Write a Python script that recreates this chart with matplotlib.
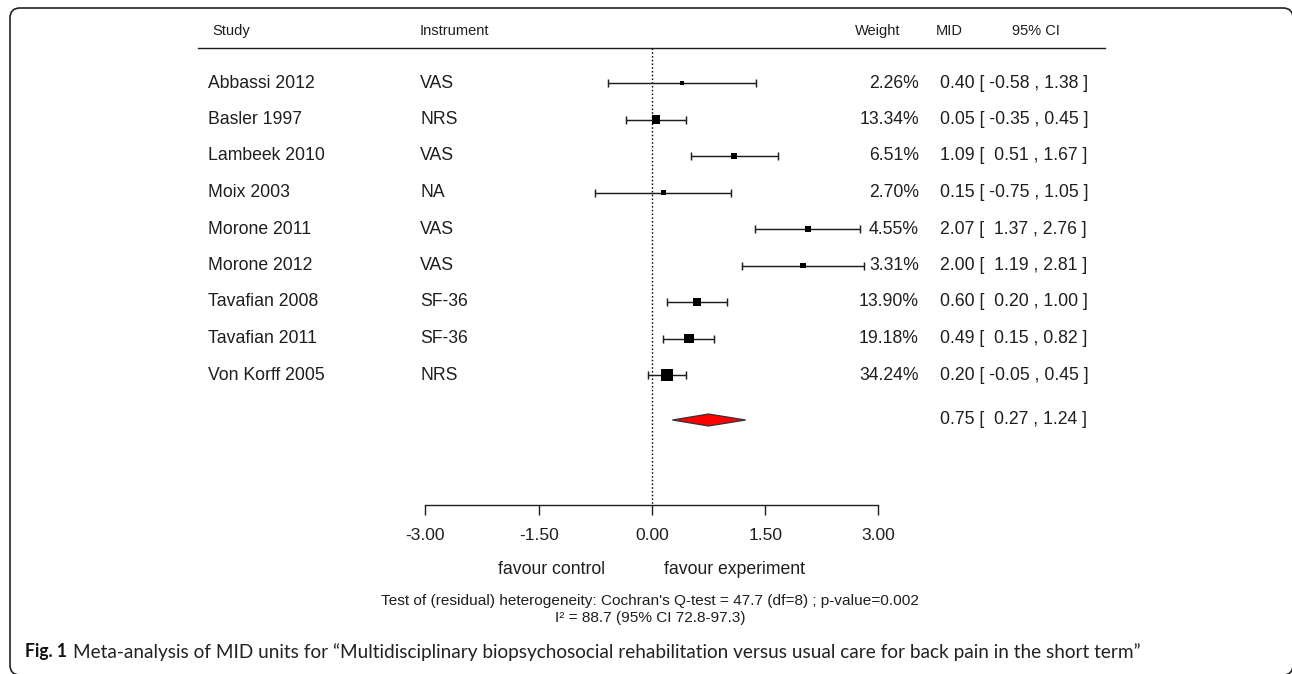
import matplotlib
matplotlib.use("Agg")
import matplotlib.pyplot as plt
import matplotlib.transforms as mtransforms
from matplotlib.patches import FancyBboxPatch, Polygon
from matplotlib import font_manager
import numpy as np

# ---------------- data ----------------
studies = ["Abbassi 2012", "Basler 1997", "Lambeek 2010", "Moix 2003", "Morone 2011",
           "Morone 2012", "Tavafian 2008", "Tavafian 2011", "Von Korff 2005"]
instruments = ["VAS", "NRS", "VAS", "NA", "VAS", "VAS", "SF-36", "SF-36", "NRS"]
weights = [2.26, 13.34, 6.51, 2.70, 4.55, 3.31, 13.90, 19.18, 34.24]
mid = [0.40, 0.05, 1.09, 0.15, 2.07, 2.00, 0.60, 0.49, 0.20]
ci_low = [-0.58, -0.35, 0.51, -0.75, 1.37, 1.19, 0.20, 0.15, -0.05]
ci_high = [1.38, 0.45, 1.67, 1.05, 2.76, 2.81, 1.00, 0.82, 0.45]
summary_est = 0.75
summary_low = 0.27
summary_high = 1.24
x_ticks = [-3.0, -1.5, 0.0, 1.5, 3.0]
x_tick_labels = ["-3.00", "-1.50", "0.00", "1.50", "3.00"]
header_labels = ["Study", "Instrument", "Weight", "MID", "95% CI"]
favour_labels = ["favour control", "favour experiment"]
het_lines = ["Test of (residual) heterogeneity: Cochran's Q-test = 47.7 (df=8) ; p-value=0.002",
             "I\u00b2 = 88.7 (95% CI 72.8-97.3)"]
caption_bold = "Fig. 1"
caption_text = ("Meta-analysis of MID units for \u201cMultidisciplinary biopsychosocial rehabilitation "
                "versus usual care for back pain in the short term\u201d")

# ---------------- fonts ----------------
ttf = font_manager.fontManager.ttflist
names = {f.name for f in ttf}
SANS = "Liberation Sans" if "Liberation Sans" in names else "DejaVu Sans"
CAPF = "Lato" if "Lato" in names else SANS

# ---------------- layout ----------------
W, H, DPI = 1292, 674, 100
fig = plt.figure(figsize=(W / DPI, H / DPI), dpi=DPI)
fig.patch.set_facecolor("white")
ax = fig.add_axes([0, 0, 1, 1])
ax.set_facecolor("none")

X0, SX = 652.0, 75.5     # pixel of x=0, pixels per unit
Y0, SY = 83.0, 36.5      # pixel of first row, pixels per row


def xpx(p):
    return (p - X0) / SX


def ypx(p):
    return (p - Y0) / SY


ax.set_xlim(xpx(0), xpx(W))
ax.set_ylim(ypx(H), ypx(0))

rows = np.arange(len(studies))
m = np.array(mid)
lo = np.array(ci_low)
hi = np.array(ci_high)
w = np.array(weights)
INK = "#1e1e1e"

# confidence intervals
ax.errorbar(m, rows, xerr=[m - lo, hi - m], fmt="none", ecolor=INK,
            elinewidth=1.05, capsize=2.9, capthick=1.05, zorder=2)
# weight squares
size_px = 2.0 + 10.0 * np.sqrt(w / w.max())
ax.scatter(m, rows, marker="s", s=(size_px * 0.72) ** 2, c="black",
           linewidths=0, zorder=3)

# summary diamond
srow = ypx(420)
dh = 6.0 / SY
ax.add_patch(Polygon([[summary_low, srow], [summary_est, srow - dh],
                      [summary_high, srow], [summary_est, srow + dh]],
                     closed=True, fc="#ff0000", ec="#333333", lw=0.9, zorder=3))

# reference line at 0
ax.plot([0, 0], [ypx(48), ypx(505)], color="black", lw=1.0,
        ls=(0, (1.1, 1.6)), zorder=1)
# header rule
ax.plot([xpx(198), xpx(1105)], [ypx(48), ypx(48)], color=INK, lw=1.0)

# bottom axis
for s in ["top", "left", "right"]:
    ax.spines[s].set_visible(False)
ax.spines["bottom"].set_position(("data", ypx(505)))
ax.spines["bottom"].set_bounds(x_ticks[0], x_ticks[-1])
ax.spines["bottom"].set_linewidth(1.0)
ax.spines["bottom"].set_color(INK)
ax.set_xticks(x_ticks)
ax.set_xticklabels(x_tick_labels, fontsize=12.6, family=SANS, color=INK)
ax.tick_params(axis="x", direction="out", length=7.5, width=1.0, pad=9, color=INK)
ax.set_yticks([])

trans = mtransforms.blended_transform_factory(fig.transFigure, ax.transData)
FS = 12.7

# headers
hx = [212, 420, 855, 936, 1012]
for lab, x in zip(header_labels, hx):
    ax.text(x / W, ypx(31), lab, transform=trans, ha="left", va="center",
            fontsize=10.5, family=SANS, color=INK)

# rows
for i in rows:
    ax.text(208 / W, i, studies[i], transform=trans, ha="left", va="center",
            fontsize=FS, family=SANS, color=INK)
    ax.text(420 / W, i, instruments[i], transform=trans, ha="left", va="center",
            fontsize=FS, family=SANS, color=INK)
    ax.text(919 / W, i, f"{weights[i]:.2f}%", transform=trans, ha="right",
            va="center", fontsize=FS, family=SANS, color=INK)
    ax.text(940 / W, i, f"{mid[i]:.2f} [ {ci_low[i]:5.2f} , {ci_high[i]:.2f} ]",
            transform=trans, ha="left", va="center", fontsize=FS, family=SANS, color=INK)
ax.text(940 / W, srow, f"{summary_est:.2f} [ {summary_low:5.2f} , {summary_high:.2f} ]",
        transform=trans, ha="left", va="center", fontsize=FS, family=SANS, color=INK)

# favour labels
ax.text(551 / W, ypx(570), favour_labels[0], transform=trans, ha="center", va="center",
        fontsize=FS, family=SANS, color=INK)
ax.text(734 / W, ypx(570), favour_labels[1], transform=trans, ha="center", va="center",
        fontsize=FS, family=SANS, color=INK)

renderer = fig.canvas.get_renderer()


def fitted_size(text, target_px, **kw):
    probe = fig.text(0, 0, text, fontsize=10, **kw)
    pw = probe.get_window_extent(renderer).width
    probe.remove()
    return 10 * target_px / pw


# heterogeneity text, centred under x = 0 (line 1 about 540 px wide)
hfs = fitted_size(het_lines[0], 540, family=SANS)
fig.text(650 / W, 1 - 601 / H, het_lines[0], ha="center", va="center",
         fontsize=hfs, family=[SANS, "DejaVu Sans"], color=INK)
fig.text(650 / W, 1 - 618 / H, het_lines[1], ha="center", va="center",
         fontsize=hfs, family=[SANS, "DejaVu Sans"], color=INK)

# caption
cfs_b = fitted_size(caption_bold, 42, family=CAPF, weight="bold")
tb = fig.text(25 / W, 1 - 652 / H, caption_bold, ha="left", va="center", fontsize=cfs_b,
              family=CAPF, weight="bold", color="#111111")
bb = tb.get_window_extent(renderer)
x_start = bb.x1 + 6
cfs_r = fitted_size(caption_text, 1140 - x_start, family=CAPF)
fig.text(x_start / W, 1 - 652 / H, caption_text, ha="left",
         va="center", fontsize=cfs_r, family=CAPF, color="#222222")

# rounded frame
frame = FancyBboxPatch((10, -1), 1283, 667, boxstyle="round,pad=0,rounding_size=10",
                       fill=False, ec="#222222", lw=1.2,
                       transform=mtransforms.IdentityTransform())
fig.add_artist(frame)

fig.savefig("out.png", dpi=DPI)
